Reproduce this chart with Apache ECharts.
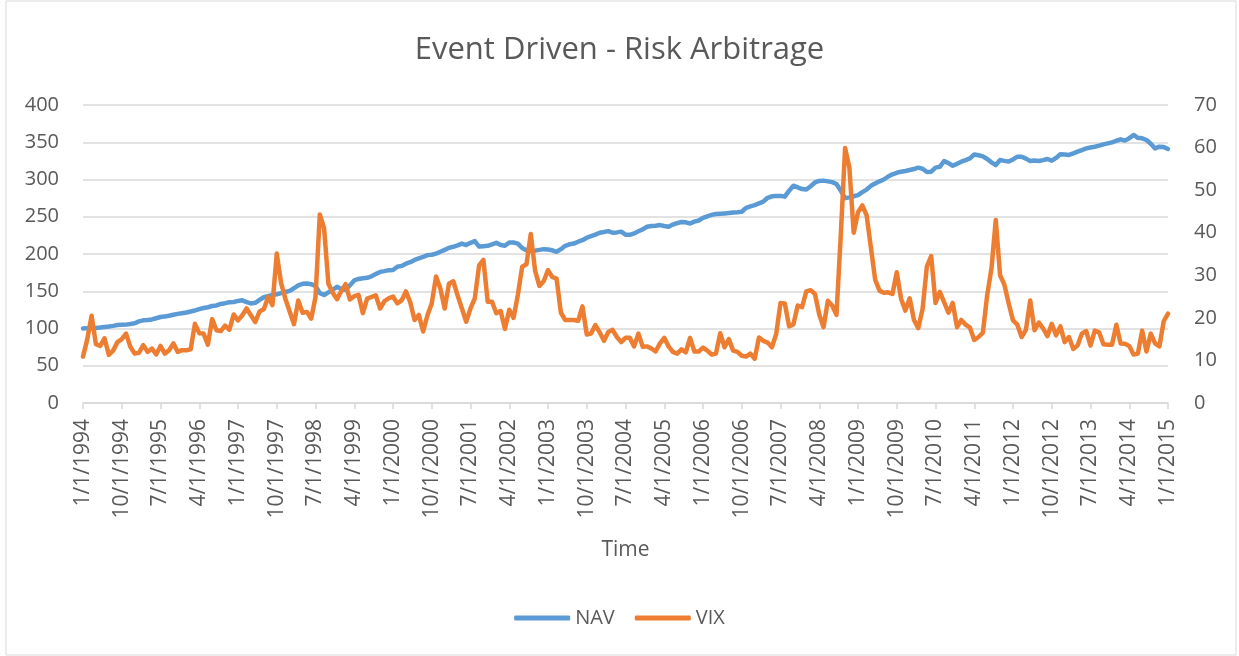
<!DOCTYPE html>
<html>
<head>
<meta charset="utf-8">
<title>Event Driven - Risk Arbitrage</title>
<script src="https://cdn.jsdelivr.net/npm/echarts@6/dist/echarts.min.js"></script>
<style>
  html, body { margin: 0; padding: 0; background: #fff; }
  #main { width: 1239px; height: 656px; }
</style>
</head>
<body>
<div id="main"></div>
<script>
// monthly data, 1/1/1994 .. 1/1/2015
var startYear = 1994;
var endYear = 2015;

var navValues = [
  // 1994
  100, 100.5, 100.3, 100.8, 101.2, 101.9, 102.6, 103.5, 104.6, 104.9, 105.2, 106.0,
  // 1995
  107.0, 109.5, 111.0, 111.5, 112.2, 113.8, 115.4, 116.2, 117.1, 118.5, 119.6, 120.5,
  // 1996
  121.5, 122.8, 124.2, 126.0, 127.5, 128.5, 130.2, 131.0, 133.0, 134.0, 135.2, 135.6,
  // 1997
  137.0, 137.8, 135.5, 133.6, 134.5, 138.5, 142.0, 143.5, 145.0, 146.0, 147.5, 149.0,
  // 1998
  150.5, 154.0, 158.0, 160.0, 160.5, 159.5, 157.0, 147.5, 145.0, 148.5, 152.0, 156.0,
  // 1999
  153.0, 152.0, 158.0, 164.5, 166.5, 167.5, 168.0, 170.0, 173.0, 176.0, 177.0, 178.3,
  // 2000
  178.5, 182.8, 184.0, 187.0, 189.0, 192.0, 194.0, 196.0, 198.5, 199.0, 200.5, 203.0,
  // 2001
  205.5, 208.3, 209.7, 211.5, 214.0, 212.0, 215.0, 217.3, 210.0, 210.5, 211.0, 213.0,
  // 2002
  215.0, 212.0, 211.0, 215.5, 215.5, 214.0, 208.0, 205.0, 203.9, 204.5, 205.5, 206.5,
  // 2003
  206.0, 205.0, 203.0, 206.5, 211.0, 213.0, 214.0, 216.5, 218.5, 221.8, 224.0, 226.0,
  // 2004
  228.5, 229.5, 230.7, 228.5, 229.0, 230.0, 226.0, 225.8, 227.6, 230.5, 233.0, 236.6,
  // 2005
  237.5, 238.0, 238.8, 237.5, 236.6, 239.5, 241.5, 243.0, 242.5, 241.0, 243.5, 245.0,
  // 2006
  248.5, 250.5, 252.5, 253.6, 254.0, 254.5, 255.0, 255.8, 256.0, 256.7, 262.0, 264.0,
  // 2007
  265.7, 268.0, 270.2, 275.5, 277.5, 277.8, 278.0, 277.0, 285.0, 291.7, 289.5, 287.2,
  // 2008
  286.5, 291.0, 296.0, 298.0, 298.5, 297.5, 296.5, 294.0, 285.0, 275.0, 276.0, 277.5,
  // 2009
  279.0, 283.0, 286.5, 291.5, 294.5, 297.5, 300.0, 304.0, 307.0, 309.0, 310.5, 311.5,
  // 2010
  312.7, 314.0, 315.9, 314.5, 310.0, 310.5, 315.9, 317.0, 324.8, 322.0, 318.5, 321.0,
  // 2011
  323.9, 326.0, 328.4, 333.5, 332.5, 331.0, 327.5, 323.0, 319.4, 326.2, 325.0, 324.0,
  // 2012
  327.0, 330.6, 330.6, 328.0, 324.8, 325.5, 324.8, 326.0, 327.5, 325.3, 329.0, 333.8,
  // 2013
  333.5, 332.9, 335.0, 337.4, 339.5, 341.8, 343.0, 344.0, 345.5, 347.2, 348.5, 349.9,
  // 2014
  352.0, 353.9, 352.2, 355.3, 359.8, 356.0, 355.3, 353.0, 348.0, 341.8, 344.0, 343.5,
  // 2015
  341.0
];

var vixValues = [
  // 1994
  10.9, 15.0, 20.5, 13.8, 13.4, 15.2, 11.3, 12.3, 14.3, 15.0, 16.3, 13.2,
  // 1995
  11.6, 11.8, 13.6, 12.0, 12.8, 11.4, 13.4, 11.6, 12.4, 14.0, 12.0, 12.4,
  // 1996
  12.4, 12.6, 18.6, 16.4, 16.3, 13.7, 19.7, 17.1, 16.9, 18.2, 17.2, 20.8,
  // 1997
  19.4, 20.6, 22.2, 20.6, 19.0, 21.5, 22.0, 24.9, 23.0, 35.1, 28.2, 24.5,
  // 1998
  21.5, 18.5, 24.1, 21.2, 21.4, 19.8, 24.9, 44.3, 41.0, 28.0, 25.9, 24.4,
  // 1999
  26.3, 27.9, 24.3, 25.1, 25.4, 21.1, 24.5, 24.9, 25.3, 22.2, 23.9, 24.6,
  // 2000
  25.0, 23.4, 24.1, 26.2, 23.7, 19.5, 20.7, 16.8, 20.6, 23.4, 29.7, 26.9,
  // 2001
  22.2, 28.0, 28.6, 25.3, 22.2, 19.1, 22.2, 24.6, 32.3, 33.6, 23.8, 23.8,
  // 2002
  21.1, 21.6, 17.4, 21.9, 20.0, 25.4, 32.0, 32.6, 39.7, 31.1, 27.5, 28.6,
  // 2003
  31.2, 29.6, 29.2, 21.2, 19.5, 19.5, 19.5, 19.3, 22.7, 16.1, 16.3, 18.3,
  // 2004
  16.6, 14.6, 16.7, 17.2, 15.5, 14.3, 15.3, 15.3, 13.3, 16.3, 13.2, 13.3,
  // 2005
  12.8, 12.1, 14.0, 15.3, 13.3, 12.0, 11.6, 12.6, 11.9, 15.3, 12.1, 12.1,
  // 2006
  13.0, 12.3, 11.4, 11.6, 16.4, 13.1, 15.0, 12.3, 12.0, 11.1, 10.9, 11.6,
  // 2007
  10.4, 15.4, 14.6, 14.2, 13.1, 16.2, 23.5, 23.4, 18.0, 18.5, 22.9, 22.5,
  // 2008
  26.2, 26.5, 25.6, 20.8, 17.8, 24.0, 22.9, 20.7, 39.4, 59.9, 55.3, 40.0,
  // 2009
  44.8, 46.4, 44.1, 36.5, 28.9, 26.4, 25.9, 26.0, 25.6, 30.7, 24.5, 21.7,
  // 2010
  24.6, 19.5, 17.6, 22.1, 32.1, 34.5, 23.5, 26.1, 23.7, 21.2, 23.5, 17.8,
  // 2011
  19.5, 18.4, 17.7, 14.8, 15.5, 16.5, 25.3, 31.6, 43.0, 30.0, 27.8, 23.4,
  // 2012
  19.4, 18.4, 15.5, 17.2, 24.1, 17.1, 18.9, 17.5, 15.7, 18.6, 15.9, 18.0,
  // 2013
  14.3, 15.5, 12.7, 13.5, 16.3, 16.9, 13.5, 17.0, 16.6, 13.8, 13.7, 13.7,
  // 2014
  18.4, 14.0, 13.9, 13.4, 11.4, 11.6, 17.0, 12.1, 16.3, 14.0, 13.3, 19.2,
  // 2015
  21.0
];

// category labels m/1/yyyy
var months = [];
for (var y = startYear; y <= endYear; y++) {
  for (var m = 1; m <= 12; m++) {
    if (y === endYear && m > 1) break;
    months.push(m + '/1/' + y);
  }
}

var textColor = '#595959';
var gridColor = '#d9d9d9';
var font = '"Open Sans", "Noto Sans", sans-serif';

var chart = echarts.init(document.getElementById('main'));
chart.setOption({
  backgroundColor: '#fff',
  animation: false,
  title: {
    text: 'Event Driven - Risk Arbitrage',
    left: 'center',
    top: 30,
    textStyle: { color: textColor, fontFamily: font, fontSize: 31, fontWeight: 'normal' }
  },
  legend: {
    bottom: 23,
    left: 'center',
    icon: 'roundRect',
    itemWidth: 56,
    itemHeight: 5,
    itemGap: 20,
    textStyle: { color: textColor, fontFamily: font, fontSize: 20 },
    data: ['NAV', 'VIX']
  },
  graphic: [{
    type: 'rect',
    shape: { x: 6, y: 1, width: 1230, height: 654 },
    style: { fill: 'none', stroke: gridColor, lineWidth: 1 },
    silent: true
  }],
  grid: { left: 83, right: 71, top: 105, bottom: 253, containLabel: false },
  xAxis: {
    type: 'category',
    data: months,
    boundaryGap: false,
    name: 'Time',
    nameLocation: 'middle',
    nameGap: 137,
    nameTextStyle: { color: textColor, fontFamily: font, fontSize: 21 },
    axisLine: { lineStyle: { color: gridColor, width: 1.5 } },
    axisTick: { interval: 8, length: 6, lineStyle: { color: gridColor, width: 1.5 } },
    axisLabel: {
      interval: 8,
      rotate: 90,
      margin: 16,
      color: textColor,
      fontFamily: font,
      fontSize: 21
    },
    splitLine: { show: false }
  },
  yAxis: [{
    type: 'value',
    min: 0,
    max: 400,
    interval: 50,
    axisLine: { show: false },
    axisTick: { show: false },
    axisLabel: { margin: 24, color: textColor, fontFamily: font, fontSize: 20 },
    splitLine: { lineStyle: { color: gridColor, width: 1.5 } }
  }, {
    type: 'value',
    min: 0,
    max: 70,
    interval: 10,
    position: 'right',
    axisLine: { show: false },
    axisTick: { show: false },
    axisLabel: { margin: 26, color: textColor, fontFamily: font, fontSize: 20 },
    splitLine: { show: false }
  }],
  series: [{
    name: 'NAV',
    type: 'line',
    yAxisIndex: 0,
    data: navValues,
    showSymbol: false,
    symbol: 'none',
    itemStyle: { color: '#5b9bd5' },
    lineStyle: { color: '#5b9bd5', width: 4.5, cap: 'round', join: 'round' }
  }, {
    name: 'VIX',
    type: 'line',
    yAxisIndex: 1,
    data: vixValues,
    showSymbol: false,
    symbol: 'none',
    itemStyle: { color: '#ed7d31' },
    lineStyle: { color: '#ed7d31', width: 4.5, cap: 'round', join: 'round' }
  }]
});
</script>
</body>
</html>
